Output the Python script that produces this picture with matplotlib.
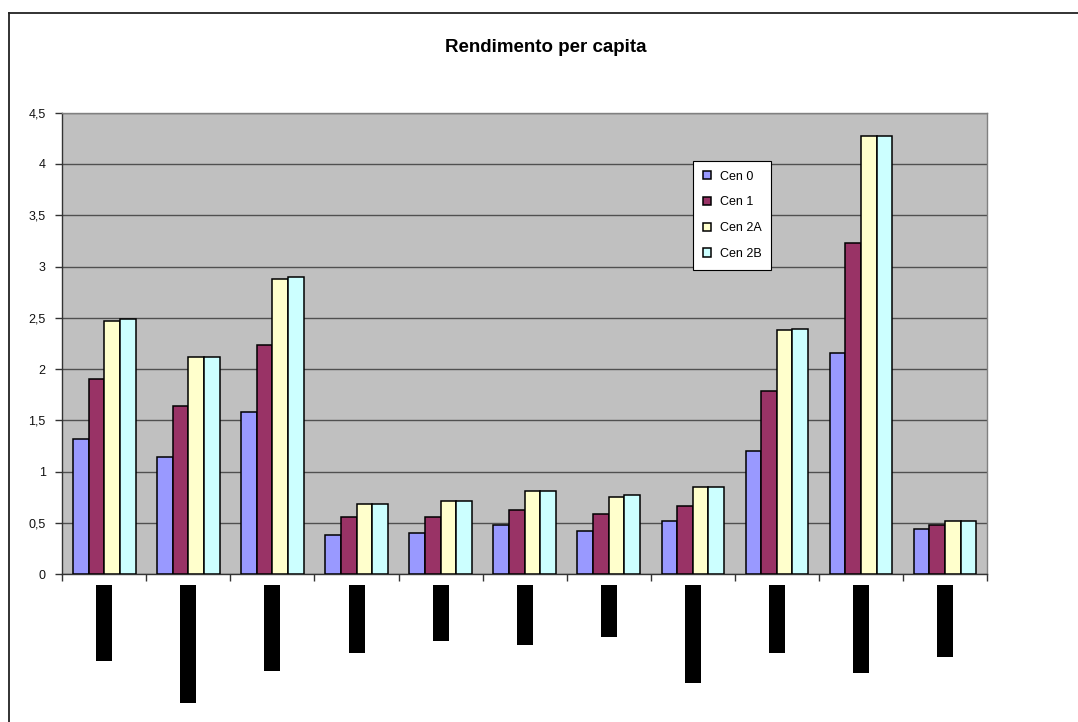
import numpy as np
import matplotlib
matplotlib.use("Agg")
import matplotlib.pyplot as plt
from matplotlib.lines import Line2D
from matplotlib.patches import Patch

plt.rcParams['font.family'] = ['Liberation Sans', 'DejaVu Sans']

# --- data -------------------------------------------------------------
n_groups = 11
series_names = ["Cen 0", "Cen 1", "Cen 2A", "Cen 2B"]
cen0 = [1.32, 1.14, 1.58, 0.38, 0.40, 0.48, 0.42, 0.52, 1.20, 2.16, 0.44]
cen1 = [1.90, 1.64, 2.24, 0.56, 0.56, 0.63, 0.59, 0.67, 1.79, 3.23, 0.48]
cen2a = [2.47, 2.12, 2.88, 0.69, 0.71, 0.81, 0.75, 0.85, 2.38, 4.27, 0.52]
cen2b = [2.49, 2.12, 2.90, 0.69, 0.71, 0.81, 0.77, 0.85, 2.39, 4.27, 0.52]
# category labels render as solid black blocks; their lengths (px)
label_block_len = [76, 118, 86, 68, 56, 60, 52, 98, 68, 88, 72]
y_ticks = [0, 0.5, 1, 1.5, 2, 2.5, 3, 3.5, 4, 4.5]
y_tick_labels = ["0", "0,5", "1", "1,5", "2", "2,5", "3", "3,5", "4", "4,5"]
title = "Rendimento per capita"

colors = ["#9999FF", "#993366", "#FFFFCC", "#CCFFFF"]

W, H = 1078, 722
fig = plt.figure(figsize=(W / 100, H / 100), dpi=100)
fig.patch.set_facecolor("white")

def fx(px):
    return px / W

def fy(py):
    return 1 - py / H

left, right, top, bottom = 62.3, 987.0, 112.7, 574.3
ax = fig.add_axes([fx(left), fy(bottom), fx(right - left), (bottom - top) / H])
ax.set_facecolor("#C0C0C0")

x = np.arange(n_groups)
w = 0.186
all_series = [cen0, cen1, cen2a, cen2b]
for i, (vals, c) in enumerate(zip(all_series, colors)):
    ax.bar(x + (i - 1.5) * w, vals, width=w, color=c, edgecolor="black",
           linewidth=1.1, zorder=3)

ax.set_xlim(-0.5, n_groups - 0.5)
ax.set_ylim(0, 4.5)
ax.set_yticks(y_ticks)
ax.set_yticklabels(y_tick_labels, fontsize=9, color="#111111")
ax.set_xticks(np.arange(-0.5, n_groups, 1))
ax.set_xticklabels([])
ax.yaxis.grid(True, color="#505050", linewidth=1.0, zorder=1)
ax.set_axisbelow(True)
ax.tick_params(axis="both", direction="out", length=5, width=1,
               color="#333333", pad=7)
for s in ["left", "bottom"]:
    ax.spines[s].set_color("#333333")
    ax.spines[s].set_linewidth(1.0)
for s in ["top", "right"]:
    ax.spines[s].set_color("#808080")
    ax.spines[s].set_linewidth(1.0)

# category label blocks under the axis
lab = fig.add_axes([fx(left), fy(712), fx(right - left), (712 - 585) / H])
lab.bar(x, label_block_len, width=0.19, color="black")
lab.set_xlim(-0.5, n_groups - 0.5)
lab.set_ylim(127, 0)
lab.axis("off")

# title
fig.text(fx(546), fy(48), title, ha="center", va="center",
         fontsize=13.5, fontweight="bold")

# legend
handles = [Patch(facecolor=c, edgecolor="black", linewidth=1.1) for c in colors]
leg = fig.legend(handles, series_names, loc="upper left",
                 bbox_to_anchor=(fx(692.7), fy(160.7)),
                 bbox_transform=fig.transFigure, fontsize=9,
                 frameon=True, fancybox=False, edgecolor="black",
                 framealpha=1, borderpad=0.8, borderaxespad=0,
                 handlelength=0.65, handleheight=0.65, handletextpad=0.7,
                 labelspacing=1.1)
leg.get_frame().set_linewidth(0.8)

# outer chart frame (top and left edges)
fig.add_artist(Line2D([fx(9), fx(9)], [0, fy(13)], transform=fig.transFigure,
                      color="#222222", linewidth=1.3))
fig.add_artist(Line2D([fx(9), 1], [fy(13), fy(13)], transform=fig.transFigure,
                      color="#222222", linewidth=1.3))

fig.savefig("out.png", dpi=100, facecolor="white")
